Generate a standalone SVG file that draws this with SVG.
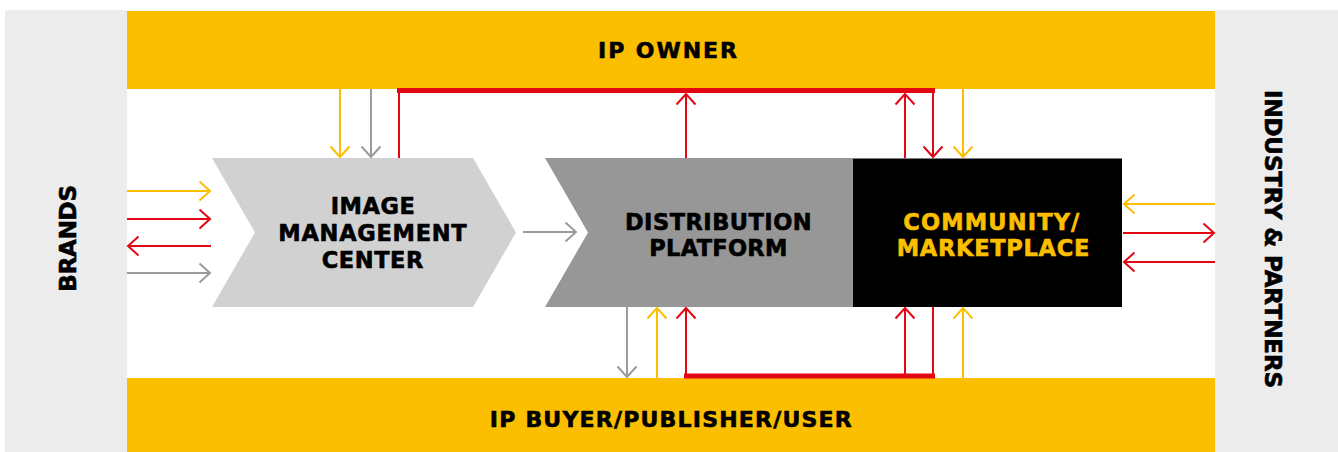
<svg xmlns="http://www.w3.org/2000/svg" width="1338" height="452" viewBox="0 0 1338 452">
  <style>
    .lbl { font-family: "DejaVu Sans", "Liberation Sans", Arial, sans-serif; font-weight: bold; fill: #000; stroke: #000; stroke-width: 0.6; text-anchor: middle; }
    .bar { font-size: 22px; }
    .side { font-size: 23px; }
    .node { font-size: 22.5px; }
    .gold { fill: #FBBF00; stroke: #FBBF00; }
    .ln { fill: none; stroke-width: 2; }
    .red { stroke: #E30613; }
    .yel { stroke: #FBBF00; }
    .gry { stroke: #9B9B9B; }
    .thick { stroke-width: 5; }
    .ar-red { marker-end: url(#head-red); }
    .ar-yel { marker-end: url(#head-yel); }
    .ar-gry { marker-end: url(#head-gry); }
  </style>
  <defs>
    <marker id="head-red" markerUnits="userSpaceOnUse" viewBox="-12 -11 14 22" refX="0" refY="0" markerWidth="14" markerHeight="22" orient="auto" overflow="visible">
      <path d="M-10.5,-9.5 L0,0 L-10.5,9.5" fill="none" stroke="#E30613" stroke-width="2"/>
    </marker>
    <marker id="head-yel" markerUnits="userSpaceOnUse" viewBox="-12 -11 14 22" refX="0" refY="0" markerWidth="14" markerHeight="22" orient="auto" overflow="visible">
      <path d="M-10.5,-9.5 L0,0 L-10.5,9.5" fill="none" stroke="#FBBF00" stroke-width="2"/>
    </marker>
    <marker id="head-gry" markerUnits="userSpaceOnUse" viewBox="-12 -11 14 22" refX="0" refY="0" markerWidth="14" markerHeight="22" orient="auto" overflow="visible">
      <path d="M-10.5,-9.5 L0,0 L-10.5,9.5" fill="none" stroke="#9B9B9B" stroke-width="2"/>
    </marker>
  </defs>

  <!-- backdrop -->
  <rect x="5" y="10" width="1333" height="442" fill="#ECECEC"/>
  <rect x="127" y="10" width="1088" height="442" fill="#FFFFFF"/>

  <g id="ip-owner">
    <rect x="127" y="11" width="1088" height="78" fill="#FBBF00"/>
    <text class="lbl bar" x="667.5" y="58.3" textLength="139" lengthAdjust="spacing">IP OWNER</text>
  </g>

  <g id="ip-buyer">
    <rect x="127" y="378" width="1088" height="74" fill="#FBBF00"/>
    <text class="lbl bar" x="670.8" y="426.7" textLength="362" lengthAdjust="spacing">IP BUYER/PUBLISHER/USER</text>
  </g>

  <g id="brands">
    <text class="lbl side" transform="translate(75.7,238.3) rotate(-90)" textLength="106.7" lengthAdjust="spacing">BRANDS</text>
  </g>

  <g id="industry-partners">
    <text class="lbl side" transform="translate(1265,239) rotate(90)" textLength="298" lengthAdjust="spacing">INDUSTRY &amp; PARTNERS</text>
  </g>

  <g id="image-management-center">
    <polygon points="212,158 473,158 516,232.5 473,307 212,307 255,232.5" fill="#D1D1D1"/>
    <text class="lbl node" x="372.8" y="214.3" textLength="84.3" lengthAdjust="spacing">IMAGE</text>
    <text class="lbl node" x="372.5" y="241.2" textLength="188.4" lengthAdjust="spacing">MANAGEMENT</text>
    <text class="lbl node" x="372.5" y="267.7" textLength="101.7" lengthAdjust="spacing">CENTER</text>
  </g>

  <g id="distribution-platform">
    <polygon points="545,158 853,158 853,307 545,307 588,232.5" fill="#979797"/>
    <text class="lbl node" x="718.3" y="230" textLength="186.7" lengthAdjust="spacing">DISTRIBUTION</text>
    <text class="lbl node" x="718.3" y="256" textLength="138" lengthAdjust="spacing">PLATFORM</text>
  </g>

  <g id="community-marketplace">
    <rect x="853" y="158.5" width="269" height="148.5" fill="#000000"/>
    <text class="lbl node gold" x="991.3" y="230" textLength="176" lengthAdjust="spacing">COMMUNITY/</text>
    <text class="lbl node gold" x="993" y="256" textLength="192.6" lengthAdjust="spacing">MARKETPLACE</text>
  </g>

  <g id="connectors">
    <!-- IP owner side -->
    <line class="ln yel ar-yel" x1="340" y1="89" x2="340" y2="157"/>
    <line class="ln gry ar-gry" x1="371" y1="89" x2="371" y2="157"/>
    <line class="ln red" x1="399" y1="91" x2="399" y2="158"/>
    <line class="ln red thick" x1="397" y1="90.5" x2="935" y2="90.5"/>
    <line class="ln red ar-red" x1="686" y1="158" x2="686" y2="94"/>
    <line class="ln red ar-red" x1="905" y1="158" x2="905" y2="94"/>
    <line class="ln red ar-red" x1="933" y1="92" x2="933" y2="157"/>
    <line class="ln yel ar-yel" x1="963" y1="89" x2="963" y2="157"/>

    <!-- IP buyer side -->
    <line class="ln gry ar-gry" x1="627" y1="307" x2="627" y2="377"/>
    <line class="ln yel ar-yel" x1="657" y1="378" x2="657" y2="308"/>
    <line class="ln red thick" x1="684" y1="376" x2="935" y2="376"/>
    <line class="ln red ar-red" x1="686" y1="376" x2="686" y2="308"/>
    <line class="ln red ar-red" x1="905" y1="376" x2="905" y2="308"/>
    <line class="ln red" x1="933" y1="307" x2="933" y2="376"/>
    <line class="ln yel ar-yel" x1="963" y1="378" x2="963" y2="308"/>

    <!-- brands side -->
    <line class="ln yel ar-yel" x1="127" y1="191" x2="210" y2="191"/>
    <line class="ln red ar-red" x1="127" y1="219" x2="210" y2="219"/>
    <line class="ln red ar-red" x1="211" y1="246" x2="128" y2="246"/>
    <line class="ln gry ar-gry" x1="127" y1="273" x2="210" y2="273"/>

    <!-- image management center to distribution platform -->
    <line class="ln gry ar-gry" x1="523" y1="232" x2="576" y2="232"/>

    <!-- industry and partners side -->
    <line class="ln yel ar-yel" x1="1215" y1="204" x2="1124" y2="204"/>
    <line class="ln red ar-red" x1="1123" y1="233" x2="1214" y2="233"/>
    <line class="ln red ar-red" x1="1215" y1="262" x2="1124" y2="262"/>
  </g>
</svg>
